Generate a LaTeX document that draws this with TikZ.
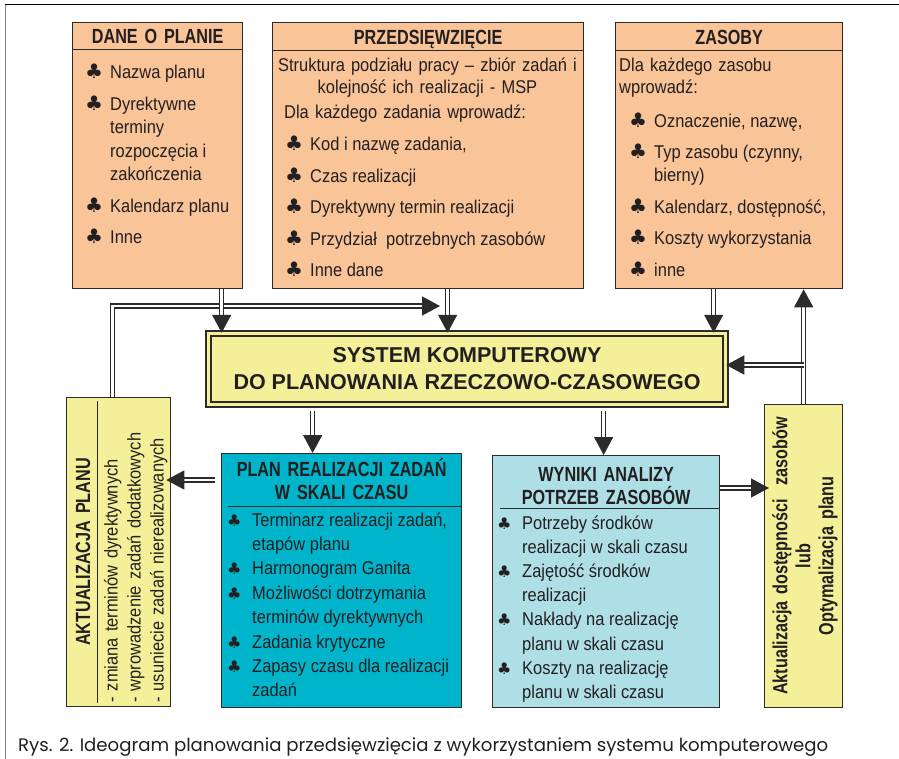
\documentclass[tikz,border=0pt]{standalone}
\usepackage{fontspec}
\setmainfont[FakeStretch=0.89]{Liberation Sans}
\newfontfamily\naglowekfont[FakeStretch=0.79]{Liberation Sans}
\newfontfamily\systemfont{Liberation Sans}
\newfontfamily\symbolfont{DejaVu Sans}
\newfontfamily\podpisfont{Poppins}
\usepackage{xcolor}
\usepackage{tikz}
\usetikzlibrary{arrows.meta}
\definecolor{pomarancz}{RGB}{250,196,153}
\definecolor{zolty}{RGB}{244,240,154}
\definecolor{turkus}{RGB}{0,180,203}
\definecolor{blekit}{RGB}{174,223,230}
\definecolor{linia}{RGB}{45,42,43}
\definecolor{tekst}{RGB}{35,31,32}
\newcommand\klubrozm{20}
\newcommand\pkt{\makebox[25pt][l]{\symbolfont\fontsize{\klubrozm}{\klubrozm}\selectfont\char"2663}}
\tikzset{
  Pole/.style={draw=linia, line width=1.3pt, anchor=north west, inner sep=0pt}, % Bloki
  Naglowek/.style={anchor=base, inner sep=0pt, text width=#1, align=center, text=tekst,
    font={\naglowekfont\bfseries\fontsize{20.5}{23}\selectfont}},
  Naglowek/.default=240pt,
  Tekst/.style={anchor=base west, inner sep=0pt, text width=330pt, align=left, text=tekst,
    font={\fontsize{18.5}{22}\selectfont}},
  Lista/.style={anchor=base west, inner sep=0pt, text=tekst,
    font={\fontsize{18.5}{#1}\selectfont\renewcommand\arraystretch{1}}},
  Kreska/.style={draw=linia, line width=1pt},
  Strzalka/.style={draw=linia, line width=1.4pt, double=white, double distance=2.6pt, ->} % Podwojne strzalki
}
\begin{document}
\begin{tikzpicture}[x=1pt, y=-1pt,
>={Triangle[length=18pt, width=19pt]} % groty
]
\useasboundingbox (0,0) rectangle (899,759);
%Ramka
\draw[gray, line width=1pt] (5,759) -- (5,5);
\draw[black, line width=1pt] (5,5) -- (899,5);

%Bloki gorne
\node[Pole, fill=pomarancz, minimum width=170pt, minimum height=266pt] (dane) at (72,22) {};
\node[Naglowek=170pt] (dane-n) at ([yshift=-22pt]dane.north) {DANE O PLANIE};
\draw[Kreska] ([yshift=-28pt]dane.north west) -- ([yshift=-28pt]dane.north east);
\node[Lista=23.5pt] (dane-l) at (85,79) {\begin{tabular}[t]{@{}l@{}l@{}}
  \pkt & Nazwa planu\\[8pt]
  \pkt & Dyrektywne\\ & terminy\\ & rozpoczęcia i\\ & zakończenia\\[8pt]
  \pkt & Kalendarz planu\\[8pt]
  \pkt & Inne
  \end{tabular}};

\node[Pole, fill=pomarancz, minimum width=311pt, minimum height=266pt] (przeds) at (272,22) {};
\node[Naglowek=311pt] (przeds-n) at ([yshift=-23pt]przeds.north) {PRZEDSIĘWZIĘCIE};
\draw[Kreska] ([yshift=-29pt]przeds.north west) -- ([yshift=-29pt]przeds.north east);
\node[Tekst, anchor=base, text width=311pt, align=center] (przeds-s) at (427.5,72)
  {Struktura podziału pracy – zbiór zadań i\\kolejność ich realizacji - MSP};
\node[Tekst] (przeds-d) at (284,119) {Dla każdego zadania wprowadź:};
\node[Lista=23.5pt] (przeds-l) at (285,151) {\begin{tabular}[t]{@{}l@{}l@{}}
  \pkt & Kod i nazwę zadania,\\[8pt]
  \pkt & Czas realizacji\\[8pt]
  \pkt & Dyrektywny termin realizacji\\[8pt]
  \pkt & Przydział\ \ potrzebnych zasobów\\[8pt]
  \pkt & Inne dane
  \end{tabular}};

\node[Pole, fill=pomarancz, minimum width=227pt, minimum height=266pt] (zasoby) at (615,22) {};
\node[Naglowek=227pt] (zasoby-n) at ([yshift=-23pt]zasoby.north) {ZASOBY};
\draw[Kreska] ([yshift=-29pt]zasoby.north west) -- ([yshift=-29pt]zasoby.north east);
\node[Tekst] (zasoby-d) at (619,71.5) {Dla każdego zasobu\\wprowadź:};
\node[Lista=23pt] (zasoby-l) at (629,127.5) {\begin{tabular}[t]{@{}l@{}l@{}}
  \pkt & Oznaczenie, nazwę,\\[8.5pt]
  \pkt & Typ zasobu (czynny,\\ & bierny)\\[8.5pt]
  \pkt & Kalendarz, dostępność,\\[8.5pt]
  \pkt & Koszty wykorzystania\\[8.5pt]
  \pkt & inne
  \end{tabular}};

%System
\node[draw=linia, line width=1.5pt, double=zolty, double distance=3.5pt, fill=zolty,
  minimum width=517pt, minimum height=71pt, inner sep=0pt, align=center, text=tekst,
  font={\systemfont\bfseries\fontsize{21.5}{27}\selectfont}] (system) at (467,369)
  {SYSTEM KOMPUTEROWY\\DO PLANOWANIA RZECZOWO-CZASOWEGO};

%Bloki dolne
\node[Pole, fill=zolty, minimum width=104pt, minimum height=309pt] (akt) at (66,397) {};
\draw[Kreska, line width=0.8pt] ([xshift=31pt,yshift=-4pt]akt.north west) -- ([xshift=31pt,yshift=4pt]akt.south west);
\node[Naglowek=300pt, rotate=90, anchor=center] (akt-n) at (83,552) {AKTUALIZACJA PLANU};
\node[Tekst, font={\fontsize{18.5}{23}\selectfont}, rotate=90] (akt-l) at (117.5,703)
  {- zmiana terminów dyrektywnych\\- wprowadzenie zadań dodatkowych\\- usuniecie zadań nierealizowanych};

\node[Pole, fill=turkus, minimum width=240pt, minimum height=254pt] (plan) at (221,453) {};
\node[Naglowek=240pt] (plan-n) at ([yshift=-23pt]plan.north) {PLAN REALIZACJI ZADAŃ\\W SKALI CZASU};
\draw[Kreska] ([xshift=7pt,yshift=-53pt]plan.north west) -- ([yshift=-53pt]plan.north east);
\node[Lista=24.4pt] (plan-l) at (227,526) {\renewcommand\klubrozm{16}%
  \begin{tabular}[t]{@{}l@{}l@{}}
  \pkt & Terminarz realizacji zadań,\\ & etapów planu\\
  \pkt & Harmonogram Ganita\\
  \pkt & Możliwości dotrzymania\\ & terminów dyrektywnych\\
  \pkt & Zadania krytyczne\\
  \pkt & Zapasy czasu dla realizacji\\ & zadań
  \end{tabular}};

\node[Pole, fill=blekit, minimum width=227pt, minimum height=252pt] (wyniki) at (492,455) {};
\node[Naglowek=227pt] (wyniki-n) at ([yshift=-26pt]wyniki.north) {WYNIKI ANALIZY\\POTRZEB ZASOBÓW};
\draw[Kreska] ([xshift=8pt,yshift=-53pt]wyniki.north west) -- ([yshift=-53pt]wyniki.north east);
\node[Lista=24.1pt] (wyniki-l) at (497,529.5) {\renewcommand\klubrozm{16}%
  \begin{tabular}[t]{@{}l@{}l@{}}
  \pkt & Potrzeby środków\\ & realizacji w skali czasu\\
  \pkt & Zajętość środków\\ & realizacji\\
  \pkt & Nakłady na realizację\\ & planu w skali czasu\\
  \pkt & Koszty na realizację\\ & planu w skali czasu
  \end{tabular}};

\node[Pole, fill=zolty, minimum width=78pt, minimum height=303pt] (opt) at (764,404) {};
\node[Naglowek=300pt, rotate=90, anchor=center] (opt-n) at (805,556)
  {Aktualizacja dostępności\ \ zasobów\\lub\\Optymalizacja planu};

%Punkty pomocnicze
\coordinate (dane-wy) at ([xshift=64pt]dane.south);
\coordinate (przeds-wy) at ([xshift=19.5pt]przeds.south);
\coordinate (zasoby-wy) at ([xshift=-15.5pt]zasoby.south);
\coordinate (akt-wy) at ([xshift=-6pt]akt.north);
\coordinate (zwrot) at (440,306);
\coordinate (plan-we) at ([xshift=-29pt]plan.north);
\coordinate (wyniki-we) at ([xshift=-2.5pt]wyniki.north);
\coordinate (rozgal) at ([yshift=4pt]system.east);
\coordinate (plan-wy) at ([yshift=-27pt]plan.north west);
\coordinate (wyniki-wy) at ([yshift=-33pt]wyniki.north east);

%Strzalki
\draw[Strzalka] (akt-wy) |- (zwrot);
\draw[Strzalka] (dane-wy) -- (dane-wy |- system.north);
\draw[Strzalka] (przeds-wy) -- (przeds-wy |- system.north);
\draw[Strzalka] (zasoby-wy) -- (zasoby-wy |- system.north);
\draw[Strzalka] (opt.north) -- (opt.north |- zasoby.south);
\draw[Strzalka] (opt.north |- rozgal) -- (rozgal);
\draw[Strzalka, shorten <=6pt] (plan-we |- system.south) -- (plan-we);
\draw[Strzalka, shorten <=6pt] (wyniki-we |- system.south) -- (wyniki-we);
\draw[Strzalka, shorten <=6pt, shorten >=-5pt] (plan-wy) -- (plan-wy -| akt.east);
\draw[Strzalka, shorten >=-5pt] (wyniki-wy) -- (wyniki-wy -| opt.west);

%Podpis
\node[anchor=base west, inner sep=0pt, text=tekst, font=\podpisfont] (podpis) at (18,751)
  {\resizebox{810pt}{!}{Rys. 2. Ideogram planowania przedsięwzięcia z wykorzystaniem systemu komputerowego}};
\end{tikzpicture}
\end{document}
